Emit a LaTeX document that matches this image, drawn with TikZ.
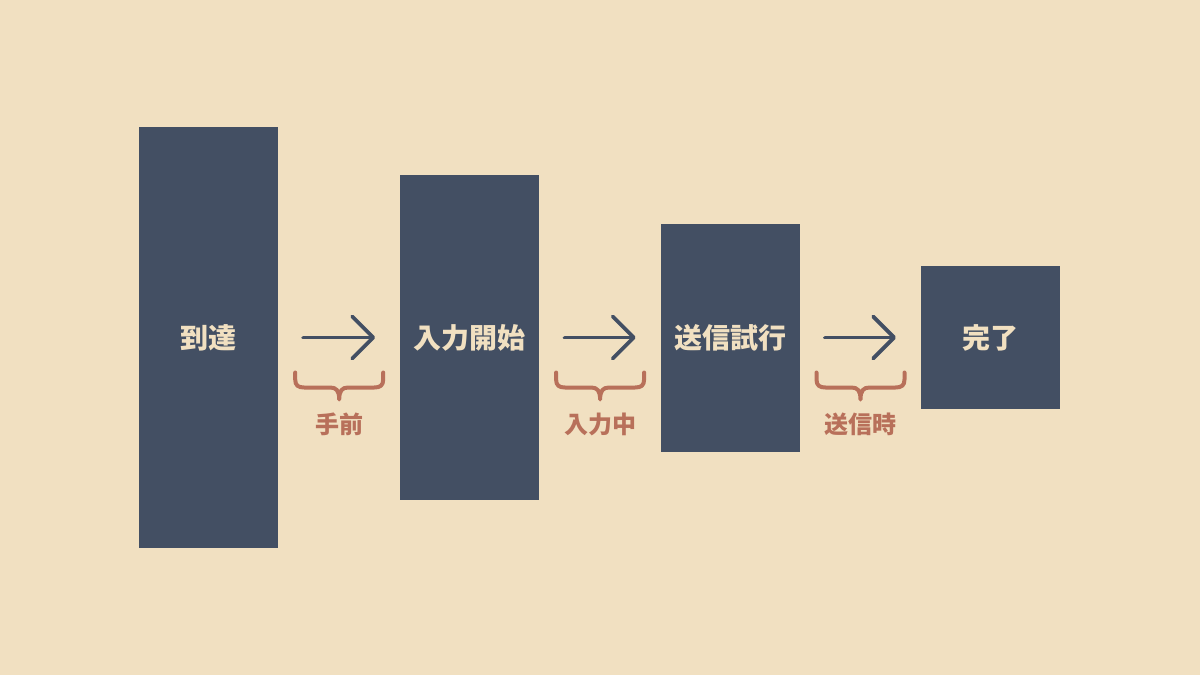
\documentclass[tikz,border=0pt]{standalone}
\usepackage{fontspec}
\setmainfont{Noto Sans CJK JP}
\usetikzlibrary{arrows.meta,positioning}

\definecolor{paper}{HTML}{F1E0C1}
\definecolor{slate}{HTML}{434F63}
\definecolor{rust}{HTML}{B8705A}

\begin{document}
\begin{tikzpicture}[x=1pt,y=1pt,node distance=122pt,
    bar/.style={fill=slate,text=paper,minimum width=139pt,inner sep=0pt,
                font=\fontsize{28}{32}\selectfont\bfseries},
    flow/.style={draw=slate,line width=3.8pt,line cap=round,
                 -{Straight Barb[length=21pt,width=42pt,line width=3.8pt,round]},
                 shorten <=25pt,shorten >=25pt},
    tag/.style={text=rust,font=\fontsize{24}{28}\selectfont\bfseries},
    pics/gapbrace/.style={code={
      \draw[rust,line width=4pt,line cap=round,line join=round]
        (-44,0) -- (-44,-7) .. controls (-44,-13) and (-41,-15) .. (-35,-15)
        -- (-9,-15) .. controls (-3,-15) and (0,-18) .. (0,-27)
        .. controls (0,-18) and (3,-15) .. (9,-15)
        -- (35,-15) .. controls (41,-15) and (44,-13) .. (44,-7) -- (44,0);
    }}]
  \fill[paper] (0,0) rectangle (1200,-675);
  \useasboundingbox (0,0) rectangle (1200,-675);

  \node[bar,minimum height=421pt] (b1) at (208.5,-337.5) {到達};
  \node[bar,minimum height=325pt] (b2) [right=of b1] {入力開始};
  \node[bar,minimum height=228pt] (b3) [right=121pt of b2] {送信試行};
  \node[bar,minimum height=143pt] (b4) [right=121pt of b3] {完了};

  \foreach \l/\r/\t [count=\i] in {b1/b2/手前,b2/b3/入力中,b3/b4/送信時}{
    \draw[flow] (\l) -- (\r);
    \path (\l.east) -- (\r.west) coordinate[midway,yshift=-35pt] (br\i);
    \pic at (br\i) {gapbrace};
    \node[tag] (t\i) at ([yshift=-52pt]br\i) {\t};
  }
\end{tikzpicture}
\end{document}
